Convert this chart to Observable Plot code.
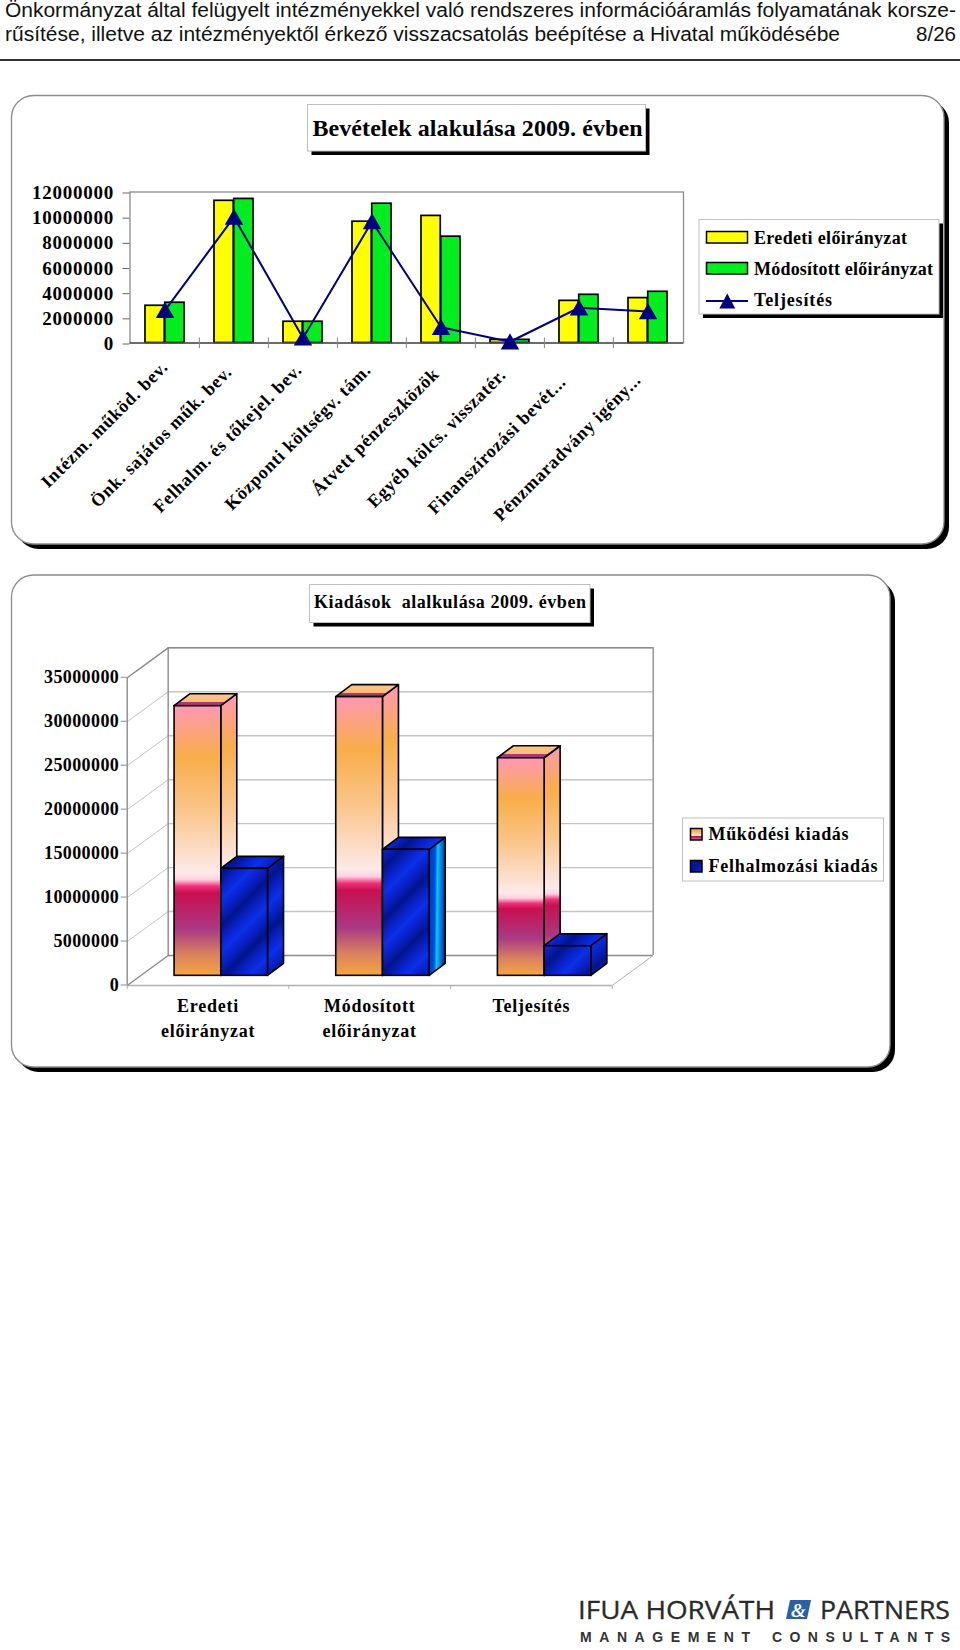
<!DOCTYPE html>
<html>
<head>
<meta charset="utf-8">
<script src="https://cdn.jsdelivr.net/npm/d3@7"></script>
<script src="https://cdn.jsdelivr.net/npm/@observablehq/plot@0.6"></script>
<style>
html,body{margin:0;padding:0;background:#fff}
#page{position:relative;width:960px;height:1650px;overflow:hidden;background:#fff}
#page>svg,#page>div{position:absolute}
text{white-space:pre}
#c1 text{letter-spacing:.75px}
#c2 text{letter-spacing:.4px}
#c2 .cat text{letter-spacing:.75px}
#c1 svg,#c2 svg{overflow:visible}
</style>
</head>
<body>
<div id="page"></div>
<script>
// ---------- data ----------
const incomeCategories = ["Intézm. működ. bev.","Önk. sajátos műk. bev.","Felhalm. és tőkejel. bev.","Központi költségv. tám.","Átvett pénzeszközök","Egyéb kölcs. visszatér.","Finanszírozási bevét...","Pénzmaradvány igény..."];
const incomeOriginal = [2960000,11300000,1690000,9640000,10100000,250000,3350000,3570000];
const incomeModified = [3200000,11450000,1690000,11070000,8450000,250000,3830000,4070000];
const incomeActual   = [2600000,10000000,400000,9650000,1250000,100000,2800000,2500000];
const incomeTicks = [0,2000000,4000000,6000000,8000000,10000000,12000000];
const spendCategories = ["Eredeti\nelőirányzat","Módosított\nelőirányzat","Teljesítés"];
const spendOperating = [30670000,31700000,24750000];
const spendCapital   = [12170000,14330000,3370000];
const spendTicks = [0,5000000,10000000,15000000,20000000,25000000,30000000,35000000];

const serif = "'Liberation Serif'";
const sans = "'Liberation Sans'";
const page = document.getElementById("page");

function stops(g, list){ list.forEach(([o,c])=>g.append("stop").attr("offset",o).attr("stop-color",c)); }

// ---------- under layer: panels and shared gradients ----------
const under = d3.select(page).append("svg").attr("width",960).attr("height",1650).style("left",0).style("top",0);
const defs = under.append("defs");
stops(defs.append("linearGradient").attr("id","gOrange").attr("x1",0).attr("y1",0).attr("x2",0).attr("y2",1),
 [[0,"#ff98b4"],[.19,"#f8ae48"],[.4,"#fbc78f"],[.62,"#fdeae8"],[.645,"#ffd0e0"],[.67,"#f0307a"],[.695,"#c80f50"],[.83,"#a93a84"],[.92,"#d98060"],[1,"#f6a640"]]);
stops(defs.append("linearGradient").attr("id","gOrangeTop").attr("x1",0).attr("y1",0).attr("x2",0).attr("y2",1),
 [[0,"#fcc88a"],[.68,"#fbbb78"],[.72,"#a93a74"],[1,"#a93a74"]]);
stops(defs.append("linearGradient").attr("id","gBlue").attr("gradientUnits","userSpaceOnUse").attr("spreadMethod","repeat").attr("x1",0).attr("y1",0).attr("x2",26).attr("y2",26),
 [[0,"#00158c"],[.25,"#0a20c4"],[.5,"#0a30e8"],[.75,"#0a20c4"],[1,"#00158c"]]);
stops(defs.append("linearGradient").attr("id","gCyan").attr("x1",0).attr("y1",.45).attr("x2",1).attr("y2",.55),
 [[0,"#0038c0"],[.35,"#0050e0"],[.5,"#00d0ff"],[.65,"#0090f0"],[1,"#002890"]]);
function panel(x,y,w,h){
  under.append("rect").attr("x",x+5).attr("y",y+5).attr("width",w).attr("height",h).attr("rx",22).attr("fill","#000");
  under.append("rect").attr("x",x).attr("y",y).attr("width",w).attr("height",h).attr("rx",22).attr("fill","#fff").attr("stroke","#8c8c8c").attr("stroke-width",1.3);
}
panel(11.5,95.5,932.5,448.5);
panel(11.5,575,878.5,492);

// ---------- chart 1 ----------
const c1Top = 96;
const incomeRows = incomeCategories.map((c,i)=>({c,orig:incomeOriginal[i],mod:incomeModified[i],act:incomeActual[i]}));
const halfBar = 19.75;
const labelNudgeX = [0,-5,-4,-4,-5,-7,-16,-10];
const labelNudgeY = [21,26,24,24,28,29,36,34];
const txt1 = {fontFamily:serif,fontWeight:"bold",fontSize:18,fill:"#000"};
const chart1 = Plot.plot({
  width:960,height:450,marginLeft:129.5,marginRight:277,marginTop:95.5,marginBottom:203.5,
  style:{background:"transparent",overflow:"visible"},
  x:{type:"band",domain:incomeCategories,paddingInner:.43,paddingOuter:.215,axis:null},
  y:{domain:[0,12000000]},
  marks:[
    Plot.frame({stroke:"#8c8c8c",strokeWidth:1.3}),
    Plot.barY(incomeRows,{x:"c",y:"orig",fill:"#ffff00",stroke:"#000",strokeWidth:1.7,insetRight:halfBar}),
    Plot.barY(incomeRows,{x:"c",y:"mod",fill:"#00ee20",stroke:"#000",strokeWidth:1.7,insetLeft:halfBar}),
    Plot.ruleY([0],{stroke:"#555",strokeWidth:1.3}),
    Plot.ruleX(incomeCategories.slice(1),{x:d=>d,y1:-450000,y2:400000,dx:-34.6,stroke:"#888"}),
    Plot.line(incomeRows,{x:"c",y:"act",stroke:"#000080",strokeWidth:2}),
    Plot.dot(incomeRows,{x:"c",y:"act",symbol:"triangle",r:5.9,dy:2.3,fill:"#000080",stroke:"#000080"}),
    Plot.axisY({ticks:incomeTicks,tickFormat:d=>String(d),tickSize:7,tickPadding:9,stroke:"#666",dy:1,...txt1,fontSize:19}),
    ...incomeCategories.map((c,i)=>Plot.text([c],{x:d=>d,y:()=>0,dx:labelNudgeX[i],dy:labelNudgeY[i],rotate:-45,textAnchor:"end",lineAnchor:"middle",...txt1}))
  ]
});
const wrap1 = document.createElement("div");
wrap1.id="c1"; wrap1.style.cssText=`left:0;top:${c1Top}px;width:960px;height:450px`;
wrap1.appendChild(chart1); page.appendChild(wrap1);

// ---------- chart 2 (3-D columns in data coordinates) ----------
const c2Top = 575;
const wallDx = .2535, wallDy = 3410000;   // depth of the chart box
const planeDy = 1100000;                  // front plane of the columns
const barDx = .099, barDy = 1365000;      // depth of a column
const barW = .289, barStart = .293;
const txt2 = {fontFamily:serif,fontWeight:"bold",fontSize:18,fill:"#000"};

function column(value, left, front, side, lid){
  const base = planeDy, head = value+planeDy, right = left+barW;
  return [
    Plot.area([{x:right,y1:base,y2:head},{x:right+barDx,y1:base+barDy,y2:head+barDy}],{x1:"x",y1:"y1",y2:"y2",fill:side,stroke:"#000",strokeWidth:1.6}),
    Plot.area([{y:head,x1:left,x2:right},{y:head+barDy,x1:left+barDx,x2:right+barDx}],{y1:"y",x1:"x1",x2:"x2",fill:lid,stroke:"#000",strokeWidth:1.6}),
    Plot.rect([{x1:left,x2:right,y1:base,y2:head}],{x1:"x1",x2:"x2",y1:"y1",y2:"y2",fill:front,stroke:"#000",strokeWidth:1.6})
  ];
}
const wallColor="#8c8c8c", gridColor="#c4c4c4";
const chart2 = Plot.plot({
  width:960,height:492,marginLeft:126.7,marginRight:348.3,marginTop:102.3,marginBottom:82,
  style:{background:"transparent",overflow:"visible"},
  x:{domain:[0,3],axis:null},
  y:{domain:[0,35000000]},
  marks:[
    // back wall grid
    Plot.ruleY(spendTicks.slice(1),{y:d=>d+wallDy,x1:wallDx,x2:3+wallDx,stroke:gridColor,strokeWidth:1.4}),
    // side wall diagonals
    Plot.link(spendTicks.slice(1),{x1:0,y1:d=>d,x2:wallDx,y2:d=>d+wallDy,stroke:gridColor}),
    // box outline
    Plot.ruleY([35000000+wallDy],{x1:wallDx,x2:3+wallDx,stroke:wallColor,strokeWidth:1.4}),
    Plot.ruleY([wallDy],{x1:wallDx,x2:3+wallDx,stroke:wallColor,strokeWidth:1.6}),
    Plot.ruleX([wallDx,3+wallDx],{y1:wallDy,y2:35000000+wallDy,stroke:wallColor,strokeWidth:1.4}),
    Plot.ruleX([0],{y1:0,y2:35000000,stroke:wallColor,strokeWidth:1.4}),
    Plot.ruleY([0],{x1:0,x2:3,stroke:"#b0b0b0",strokeWidth:1.4}),
    Plot.link([0,35000000],{x1:0,y1:d=>d,x2:wallDx,y2:d=>d+wallDy,stroke:wallColor,strokeWidth:1.4}),
    Plot.link([0],{x1:3,y1:0,x2:3+wallDx,y2:wallDy,stroke:"#b0b0b0"}),
    Plot.ruleX([0,1,2,3],{y1:0,y2:-460000,stroke:"#b0b0b0"}),
    // columns
    ...spendOperating.flatMap((v,i)=>column(v,i+barStart,"url(#gOrange)","url(#gOrange)","url(#gOrangeTop)")),
    ...spendCapital.flatMap((v,i)=>column(v,i+barStart+barW,"url(#gBlue)",i===1?"url(#gCyan)":"url(#gBlue)","url(#gBlue)")),
    Plot.axisY({ticks:spendTicks,tickFormat:d=>String(d),tickSize:6,tickPadding:2,stroke:wallColor,dy:-.5,...txt2}),
    Plot.text(spendCategories,{x:(d,i)=>i+.5,y:()=>0,dy:8.5,lineAnchor:"top",lineHeight:1.39,textAnchor:"middle",className:"cat",...txt2})
  ]
});
const wrap2 = document.createElement("div");
wrap2.id="c2"; wrap2.style.cssText=`left:0;top:${c2Top}px;width:960px;height:492px`;
wrap2.appendChild(chart2); page.appendChild(wrap2);

// ---------- top layer: header, titles, legends, logo ----------
const over = d3.select(page).append("svg").attr("width",960).attr("height",1650).style("left",0).style("top",0).style("pointer-events","none");
function T(s,x,y,len,size,opt={}){
  const t = over.append("text").attr("x",x).attr("y",y).attr("font-family",opt.family||serif).attr("font-size",size)
    .attr("font-weight",opt.weight||"bold").attr("fill",opt.fill||"#000").text(s);
  if(len) t.attr("textLength",len).attr("lengthAdjust",opt.adjust||"spacing");
  return t;
}
function box(x,y,w,h,shadow){
  if(shadow) over.append("rect").attr("x",x+shadow).attr("y",y+shadow).attr("width",w).attr("height",h).attr("fill","#000");
  over.append("rect").attr("x",x).attr("y",y).attr("width",w).attr("height",h).attr("fill","#fff").attr("stroke","#c0c0c0");
}
const hdr = {family:sans,weight:"normal",fill:"#111",adjust:"spacingAndGlyphs"};
T("Önkormányzat által felügyelt intézményekkel való rendszeres információáramlás folyamatának korsze-",5,17,951,20,hdr);
T("rűsítése, illetve az intézményektől érkező visszacsatolás beépítése a Hivatal működésébe",5,41,835,20,hdr);
T("8/26",916,41,40,20,hdr);
over.append("rect").attr("x",0).attr("y",59).attr("width",960).attr("height",2).attr("fill","#333");

box(307.5,104.5,338,46.5,4);
T("Bevételek alakulása 2009. évben",312.5,136,330,24);
box(699,219.5,240,94.5,4);
over.append("rect").attr("x",706.5).attr("y",231.5).attr("width",41).attr("height",11.5).attr("fill","#ffff00").attr("stroke","#000").attr("stroke-width",1.5);
over.append("rect").attr("x",706.5).attr("y",262.5).attr("width",41).attr("height",11.5).attr("fill","#00ee20").attr("stroke","#000").attr("stroke-width",1.5);
over.append("line").attr("x1",706).attr("x2",748).attr("y1",301).attr("y2",301).attr("stroke","#000080").attr("stroke-width",1.8);
over.append("path").attr("d","M727.3 293.5L735.3 308.5L719.3 308.5Z").attr("fill","#000080");
T("Eredeti előirányzat",754,243.5,153,18);
T("Módosított előirányzat",754,275,179,18);
T("Teljesítés",754,306,78,18);

box(309.5,584.5,280.5,38,4);
T("Kiadások  alalkulása 2009. évben",314,607.5,272,18);
box(682.5,818,201,63,0);
over.append("rect").attr("x",690.5).attr("y",828.5).attr("width",11.5).attr("height",11.5).attr("fill","url(#gOrange)").attr("stroke","#000").attr("stroke-width",1.5);
over.append("rect").attr("x",690.5).attr("y",860.5).attr("width",11.5).attr("height",11.5).attr("fill","url(#gBlue)").attr("stroke","#000").attr("stroke-width",1.5);
T("Működési kiadás",708.5,840,140,18);
T("Felhalmozási kiadás",708.5,871.5,169,18);

// logo
const lg = {family:"'Open Sans'",weight:"normal",fill:"#2a2a2a",adjust:"spacingAndGlyphs"};
T("IFUA HORVÁTH",578,1619,197,25,lg).attr("stroke","#2a2a2a").attr("stroke-width",.3);
T("PARTNERS",820,1619,130,25,lg).attr("stroke","#2a2a2a").attr("stroke-width",.3);
over.append("path").attr("d","M790 1600L811 1600L807 1619L786 1619Z").attr("fill","#2a5fa8");
T("&",791,1617,null,19,{family:serif,fill:"#fff"}).attr("font-style","italic");
const lg2 = {family:sans,weight:"bold",fill:"#333",adjust:"spacing"};
T("MANAGEMENT",580,1642,170,14,lg2);
T("CONSULTANTS",772,1642,178,14,lg2);
</script>
</body>
</html>
